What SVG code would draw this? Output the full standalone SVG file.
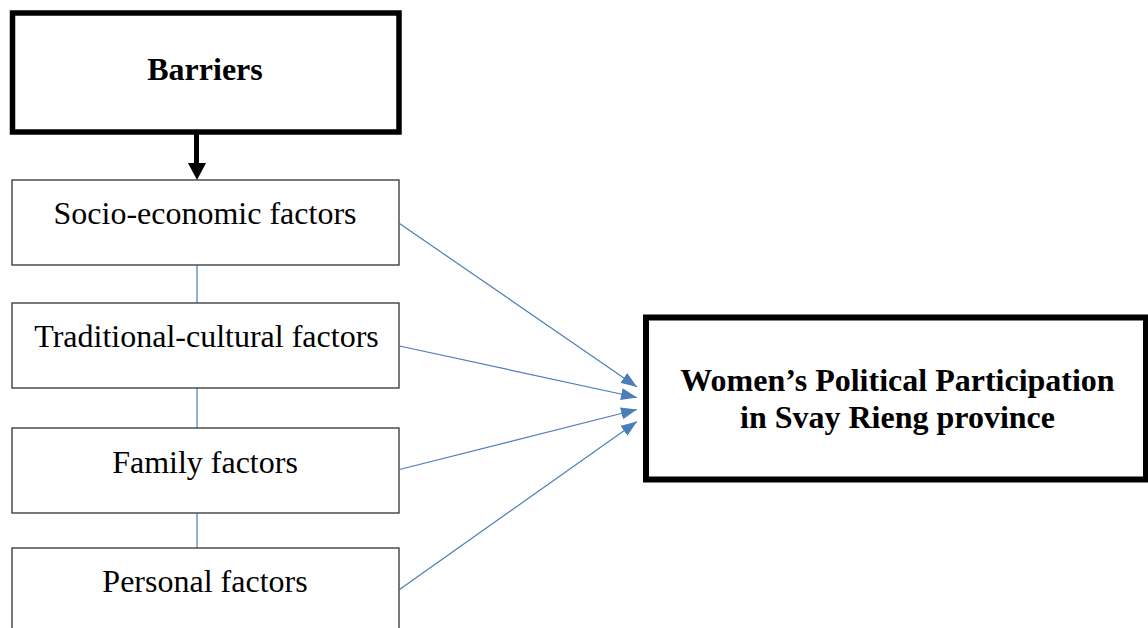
<svg xmlns="http://www.w3.org/2000/svg" width="1148" height="628" viewBox="0 0 1148 628">
<style>
.bg{fill:#ffffff}
.factor{fill:#ffffff;stroke:#404040;stroke-width:1.4}
.main{fill:#ffffff;stroke:#000000;stroke-width:6}
.t{font-family:"Liberation Serif","Times New Roman",serif;font-size:32px;fill:#000000;text-anchor:middle}
.b{font-family:"Liberation Serif","Times New Roman",serif;font-size:32px;font-weight:bold;fill:#000000;text-anchor:middle}
.link{stroke:#4a7ebb;stroke-width:1.2;fill:none}
.arrow{stroke:#4a7ebb;stroke-width:1.2;fill:none;marker-end:url(#blueHead)}
</style>
<defs>
<marker id="blueHead" viewBox="0 0 16 12" refX="16" refY="6" markerWidth="16" markerHeight="12" markerUnits="userSpaceOnUse" orient="auto">
<path d="M0,0 L16,6 L0,12 Z" fill="#4a7ebb"/>
</marker>
</defs>
<rect class="bg" x="0" y="0" width="1148" height="628"/>
<g id="connectors">
<line x1="196.5" y1="134" x2="196.5" y2="164" stroke="#000" stroke-width="5"/>
<path d="M188,163 L206,163 L197,180 Z" fill="#000"/>
<line class="link" x1="197" y1="265" x2="197" y2="303"/>
<line class="link" x1="197" y1="388" x2="197" y2="428"/>
<line class="link" x1="197" y1="513" x2="197" y2="548"/>
<line class="arrow" x1="399.5" y1="223.5" x2="637" y2="387"/>
<line class="arrow" x1="399.5" y1="346" x2="637" y2="397.5"/>
<line class="arrow" x1="399.5" y1="469.5" x2="637" y2="409.5"/>
<line class="arrow" x1="399.5" y1="589.5" x2="637" y2="421.5"/>
</g>
<g id="barriers">
<rect class="main" x="12.5" y="13" width="386.5" height="119" style="stroke-width:5.5"/>
<text class="b" x="205" y="80">Barriers</text>
</g>
<g id="socio">
<rect class="factor" x="12" y="180" width="387" height="85"/>
<text class="t" x="205" y="224">Socio-economic factors</text>
</g>
<g id="traditional">
<rect class="factor" x="12" y="303" width="387" height="85"/>
<text class="t" x="206.5" y="347">Traditional-cultural factors</text>
</g>
<g id="family">
<rect class="factor" x="12" y="428" width="387" height="85"/>
<text class="t" x="205" y="473">Family factors</text>
</g>
<g id="personal">
<rect class="factor" x="12" y="548" width="387" height="85"/>
<text class="t" x="205" y="592">Personal factors</text>
</g>
<g id="participation">
<rect class="main" x="646" y="317.5" width="500" height="162"/>
<text class="b" x="897.5" y="391">Women’s Political Participation</text>
<text class="b" x="897.5" y="428">in Svay Rieng province</text>
</g>
</svg>
